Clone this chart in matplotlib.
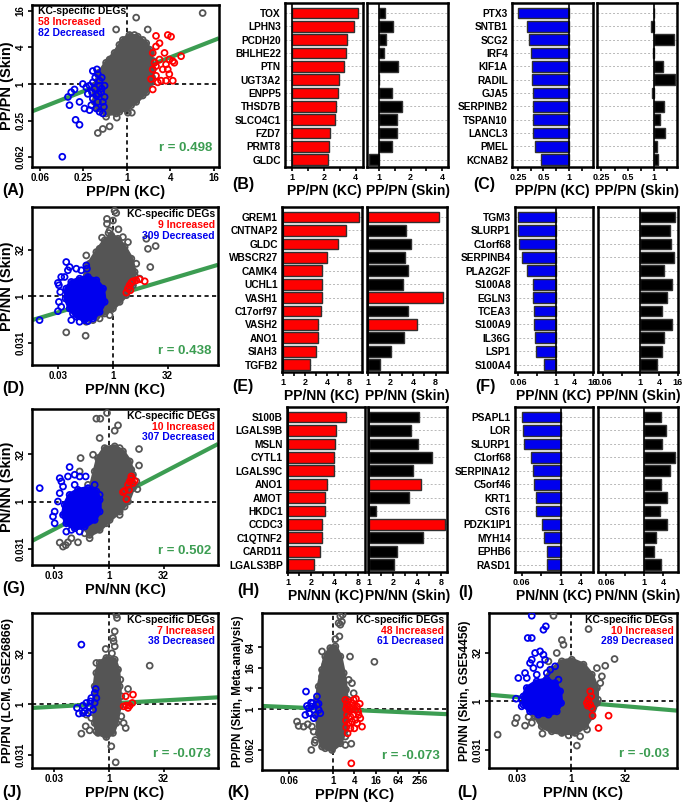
#!/usr/bin/env python
import matplotlib
matplotlib.use('Agg')
import matplotlib.pyplot as plt
import numpy as np

# every value below is a log2 ratio

# ---- (A) PP/PN KC vs PP/PN skin ----
A_core = [(-1.48,-0.98),(-1.48,-0.09),(-1.25,0.63),(-0.95,1.16),(-0.56,1.70),(-0.18,2.41),(0.12,2.68),(0.50,2.59),
          (0.89,2.23),(1.11,1.70),(1.19,0.80),(1.11,0.09),(0.89,-0.45),(0.43,-0.98),(-0.03,-1.34),(-0.49,-1.61),
          (-0.95,-1.61),(-1.33,-1.34)]
A_gray = [(3.48,3.88),(0.43,3.63),(-0.49,2.98),(0.96,2.98),(0.35,2.68),(-1.33,-2.68),(-1.10,-2.46),(-0.79,-2.32),
          (-0.46,-1.84),(0.05,-1.57),(0.23,-1.57),(-0.95,-1.79),(-1.25,0.54),(-0.79,1.34),(-0.34,2.14),(0.73,2.41),
          (1.04,1.88),(1.22,1.25),(1.16,0.36),(0.73,-0.63),(0.20,-1.16),(-0.34,-1.52),(-0.79,-1.52),(-1.44,-0.45)]
A_blue = [(-2.96,-3.98),(-2.35,-1.96),(-2.17,-2.23),(-2.70,-0.71),(-2.63,-1.16),(-2.55,-0.45),(-2.40,-0.30),
          (-2.17,-0.98),(-2.02,0.00),(-1.94,-1.34),(-1.79,-0.54),(-1.71,-1.43),(-1.56,0.71),(-1.37,0.80),(-1.33,0.54),
          (-1.25,-1.52),(-1.10,-1.61),(-1.56,0.09),(-1.48,-0.27),(-1.40,-0.63),(-1.25,-0.09),(-1.18,-0.45),
          (-1.33,-0.98),(-1.10,-0.98),(-1.02,-0.09),(-1.56,-0.80),(-1.71,-0.09),(-1.86,-0.18),(-1.25,0.18),
          (-1.02,-0.71),(-1.63,-1.16),(-1.40,-1.34),(-1.15,0.35),(-1.45,0.35),(-1.05,-1.25),(-1.30,-0.55),
          (-1.60,-0.45),(-1.15,-0.25)]
A_red = [(1.34,2.63),(1.88,2.68),(2.03,2.59),(2.49,1.52),(2.18,1.16),(1.95,1.34),(1.73,1.70),(1.50,1.34),
         (1.27,1.16),(1.19,0.80),(1.34,0.45),(1.57,0.18),(1.80,0.18),(2.11,0.18),(1.19,-0.30),(1.42,0.09),
         (1.65,0.80),(1.88,0.80),(2.11,1.25),(1.34,2.05),(1.19,1.70),(1.50,2.23),(1.80,1.07),(1.11,0.27),
         (1.95,0.54),(1.34,0.98)]
A_fit = (0.466, 0.53)
A_r = '0.498'
A_counts = (58, 82)

# ---- (D) PP/NN KC vs PP/NN skin ----
D_core = [(-2.59,-2.04),(-3.05,-0.61),(-2.74,1.54),(-2.29,3.32),(-1.52,4.75),(-0.76,6.0),(-0.15,6.54),(0.46,6.18),
          (1.07,5.29),(1.68,4.04),(1.98,2.61),(1.83,1.18),(1.22,0.11),(0.61,-0.61),(0.0,-1.32),(-0.76,-1.86),
          (-1.52,-2.21)]
D_gray = [(0.15,9.2),(0.30,8.96),(-0.55,8.32),(-0.55,7.79),(0.0,8.14),(0.91,6.36),(3.2,5.1),(3.9,5.4),(3.05,6.18),
          (3.41,3.14),(1.98,2.25),(-4.27,-3.89),(-2.5,-4.25),(-2.13,3.5),(-2.44,4.39),(-1.22,5.11),(-0.30,7.07),
          (1.37,5.82),(2.13,3.5),(2.44,1.89),(-0.3,-2.04),(-1.22,-2.39),(-1.83,-2.57),(-2.44,-2.75),(-0.4,6.8),
          (0.5,7.2),(-1.0,6.3)]
D_blue_core = [(-4.27,0.82),(-3.81,1.54),(-3.05,1.89),(-2.29,2.07),(-1.52,1.71),(-0.91,0.82),(-0.76,-0.61),
               (-1.22,-1.68),(-1.83,-2.39),(-2.59,-2.57),(-3.35,-2.21),(-3.96,-1.32),(-4.33,-0.25)]
D_blue = [(-6.71,-2.57),(-5.03,1.43),(-4.94,1.18),(-4.82,0.46),(-4.94,-0.61),(-5.03,-1.61),(-4.73,-1.14),
          (-4.27,3.68),(-3.96,3.14),(-4.12,2.79),(-3.35,2.96),(-2.9,2.79),(-2.44,3.32),(-2.38,2.96),(-4.42,2.07),
          (-3.81,-2.57),(-3.05,-2.75),(-2.29,-2.68),(-3.66,-1.86),(-4.73,2.07)]
D_red = [(1.22,0.39),(1.37,0.82),(1.52,1.18),(1.68,1.46),(1.83,1.61),(2.13,1.71),(2.44,1.82),(2.90,1.61),(1.59,0.64)]
D_fit = (0.35, 0.02)
D_r = '0.438'
D_counts = (9, 309)

# ---- (G) PN/NN KC vs PN/NN skin ----
G_core = [(-1.73,-3.52),(-2.33,-2.46),(-2.18,-0.70),(-1.73,1.06),(-1.27,3.17),(-0.97,4.58),(-0.36,5.63),(0.55,5.81),
          (1.30,5.28),(1.91,4.23),(2.21,2.82),(2.21,1.41),(1.76,0.0),(1.0,-1.06),(0.09,-1.94),(-0.82,-2.99)]
G_gray = [(-1.12,8.73),(-0.76,8.73),(-0.15,9.33),(0.55,7.46),(0.85,8.03),(-0.82,6.69),(2.76,3.80),(2.76,5.53),
          (2.61,1.30),(-3.70,-4.30),(-2.79,-4.30),(-4.15,-4.75),(-4.45,-4.33),(-2.64,3.17),(-2.55,4.58),(-1.73,-3.87),
          (1.0,-1.41),(-1.88,1.76),(-1.42,4.93),(1.0,5.63),(2.06,3.35),(2.52,2.11),(1.45,-0.53),(-0.21,-2.29),
          (-2.18,-3.35),(-3.39,-3.87),(-3.9,-4.6)]
G_blue_core = [(-4.0,-0.35),(-3.55,0.70),(-2.79,1.23),(-1.88,1.41),(-1.12,1.06),(-0.82,0.18),(-0.82,-1.06),
               (-1.27,-1.94),(-2.18,-2.64),(-3.09,-2.82),(-3.85,-2.29),(-4.15,-1.41)]
G_blue = [(-6.27,1.41),(-4.61,0.0),(-5.06,-1.58),(-4.91,-2.29),(-4.91,-1.06),(-4.45,2.46),(-4.30,2.11),(-3.55,3.63),
          (-3.70,2.64),(-3.09,2.82),(-2.64,2.64),(-2.09,2.64),(-1.27,1.76),(-4.45,0.88),(-4.15,1.58),(-3.09,1.76),
          (-0.82,0.70),(-3.39,-2.99),(-3.85,-3.17),(-2.64,-3.17)]
G_red = [(1.45,1.13),(1.30,0.99),(1.76,1.76),(1.91,2.11),(2.06,2.39),(2.21,1.94),(2.36,2.18),(2.06,2.64),
         (1.61,0.25),(1.85,1.23)]
G_fit = (0.604, 0.06)
G_r = '0.502'
G_counts = (10, 307)

# ---- (J) PP/PN KC vs PP/PN LCM ----
J_core = [(-0.97,-2.86),(-1.27,-1.88),(-1.33,-0.23),(-1.27,1.74),(-1.12,3.06),(-0.82,4.05),(-0.21,4.54),(0.55,4.38),
          (0.85,3.39),(1.0,1.74),(1.0,-0.23),(0.70,-1.88),(0.39,-2.86),(-0.21,-3.26)]
J_gray = [(0.70,8.82),(0.76,8.49),(0.55,7.17),(0.39,6.51),(0.45,6.18),(0.55,5.69),(-0.27,5.43),(3.73,3.78),
          (1.76,1.48),(-2.48,-2.93),(-2.09,-2.20),(-1.73,-2.6),(-1.12,-2.7),(1.36,-1.88),(1.55,-2.37),(0.24,-4.18),
          (0.64,-5.76),(-2.03,-1.05),(-1.12,4.05),(-0.97,2.40),(1.06,2.40),(1.15,0.76),(1.15,-1.22),(-0.82,-2.70),
          (-1.58,-1.38),(0.3,5.0)]
J_blue = [(-2.48,5.86),(-1.18,1.48),(-1.27,1.09),(-1.58,0.59),(-1.67,0.26),(-2.03,0.10),(-2.33,-0.16),(-2.88,-0.39),
          (-2.70,-0.95),(-2.18,-0.72),(-1.73,-0.23),(-1.42,-0.56),(-1.88,-0.89),(-1.27,0.10),(-2.33,-0.89),(-1.12,0.59)]
J_red = [(1.61,-0.16),(1.76,-0.39),(2.15,0.10),(2.21,0.92),(1.55,0.76),(1.36,-0.23),(1.91,-0.16)]
J_fit = (0.062, 0.04)
J_r = '-0.073'
J_counts = (7, 38)

# ---- (K) PP/PN KC vs skin meta-analysis ----
K_core = [(-0.98,-3.68),(-1.29,-2.38),(-1.45,-0.75),(-1.45,0.88),(-1.29,2.18),(-0.98,3.81),(-0.68,5.11),(-0.22,5.93),
          (0.25,6.09),(0.71,5.11),(1.02,3.49),(1.23,1.86),(1.32,-0.10),(1.17,-2.05),(0.71,-3.36),(-0.06,-4.01)]
K_gray = [(0.71,9.02),(0.92,9.19),(0.55,8.37),(0.71,8.21),(0.85,8.5),(0.62,7.07),(0.25,6.8),(-0.98,5.60),(1.6,5.1),
          (3.85,4.59),(1.94,1.53),(1.78,2.51),(-3.29,-1.24),(-3.14,-1.66),(-2.68,-1.73),(-2.3,-1.5),(-1.97,-4.01),
          (-1.66,-3.29),(-1.75,-2.21),(1.17,-3.52),(0.71,-2.54),(1.72,-3.4),(-0.98,3.16),(-0.68,4.30),(1.42,0.88),
          (1.48,2.83),(1.17,-2.70),(-0.68,-3.84),(-1.60,-3.03),(-1.91,-1.73)]
K_blue = [(-2.46,1.69),(-2.52,-0.59),(-2.37,0.29),(-2.22,0.07),(-1.97,0.23),(-1.75,-0.10),(-1.60,-0.59),(-1.45,0.39),
          (-1.29,-0.10),(-1.85,0.55),(-1.45,1.21),(-2.15,-0.42),(-1.14,-0.42),(-1.75,-0.91),(-2.0,0.6),(-1.3,0.5)]
K_red = [(2.15,0.98),(1.17,0.88),(1.32,0.39),(1.48,-0.10),(1.32,-0.59),(1.23,-1.14),(1.38,-2.38),(1.63,-1.89),
         (1.78,-1.24),(1.94,-0.59),(2.09,-0.10),(2.25,0.23),(1.78,0.55),(1.94,0.88),(2.40,-0.59),(2.55,-0.91),
         (2.71,-1.73),(2.25,-1.40),(1.63,-0.75),(1.48,-1.40),(1.72,-5.31),(2.09,-1.07),(2.34,-0.26),(1.54,0.16),
         (1.25,0.0),(1.25,-1.8),(2.0,-1.9),(2.5,0.5),(1.4,0.7),(1.9,0.2)]
K_fit = (-0.047, -0.02)
K_r = '-0.073'
K_counts = (48, 61)

# ---- (L) PP/NN KC vs PP/NN skin GSE54456 ----
L_core = [(-2.69,-2.57),(-3.30,-1.54),(-3.15,0.17),(-2.69,1.88),(-1.76,3.25),(-0.83,4.11),(0.09,4.28),(1.17,3.77),
          (1.94,2.74),(2.41,1.37),(2.41,-0.17),(1.94,-1.54),(1.33,-2.57),(0.40,-3.25),(-0.83,-3.25),(-1.76,-3.08)]
L_gray = [(-1.60,8.80),(1.64,7.43),(-0.68,5.82),(-0.83,6.3),(4.04,4.35),(3.18,3.66),(2.41,3.42),(-6.76,-3.42),
          (-5.0,-1.71),(-5.15,-2.23),(-4.23,-2.50),(-2.62,-3.32),(0.56,-4.55),(0.86,-3.60),(2.5,0.17),(2.72,1.88),
          (2.87,2.57),(-1.30,4.97),(-2.07,4.11),(-3.6,-2.2),(-3.9,-1.6),(1.5,-2.9),(-0.2,-3.5)]
L_blue_core = [(-4.38,0.51),(-4.07,1.37),(-3.15,2.05),(-2.22,2.23),(-1.45,1.88),(-0.99,1.03),(-0.90,-0.17),
               (-1.30,-1.03),(-2.07,-1.37),(-2.99,-1.37),(-3.77,-1.03),(-4.38,-0.34)]
L_blue = [(-3.61,8.80),(-3.98,6.51),(-3.61,6.51),(-2.53,7.36),(-2.31,7.71),(-3.30,4.97),(-2.84,5.14),(-2.53,4.79),
          (-2.38,4.28),(-3.61,4.28),(-3.77,3.94),(-3.46,3.42),(-2.84,3.77),(-1.91,3.25),(-1.45,3.60),(-4.85,2.40),
          (-4.23,2.91),(-4.07,2.40),(-5.06,0.27),(-4.54,0.17),(-2.22,2.91),(-3.15,2.74),(-1.14,2.23),(-4.54,-0.51)]
L_red = [(1.79,1.03),(1.88,0.51),(1.64,0.17),(1.48,-0.17),(1.79,-0.34),(1.94,-0.68),(2.01,-1.47),(3.49,-1.47),
         (2.56,-2.74),(1.57,-0.45)]
L_fit = (-0.094, -0.03)
L_r = '-0.03'
L_counts = (10, 289)

# ---- bar panels ----
B_genes = ['TOX','LPHN3','PCDH20','BHLHE22','PTN','UGT3A2','ENPP5','THSD7B','SLCO4C1','FZD7','PRMT8','GLDC']
B_kc = [2.08,1.95,1.72,1.69,1.64,1.48,1.45,1.38,1.36,1.19,1.17,1.14]
B_skin = [0.18,0.44,0.21,0.15,0.60,0.01,0.42,0.73,0.58,0.57,0.41,-0.32]

C_genes = ['PTX3','SNTB1','SCG2','IRF4','KIF1A','RADIL','GJA5','SERPINB2','TSPAN10','LANCL3','PMEL','KCNAB2']
C_kc = [-2.01,-1.64,-1.57,-1.47,-1.44,-1.43,-1.40,-1.40,-1.40,-1.39,-1.34,-1.10]
C_skin = [0.0,-0.12,0.74,-0.05,0.32,0.81,-0.09,0.36,0.21,0.42,0.12,0.15]

E_genes = ['GREM1','CNTNAP2','GLDC','WBSCR27','CAMK4','UCHL1','VASH1','C17orf97','VASH2','ANO1','SIAH3','TGFB2']
E_kc = [3.43,2.88,2.49,2.01,1.79,1.79,1.76,1.75,1.61,1.60,1.51,1.24]
E_skin = [3.13,1.69,1.90,1.64,1.79,1.57,3.31,1.79,2.19,1.61,1.04,0.55]
E_skin_up = ['GREM1','VASH1','VASH2']

F_genes = ['TGM3','SLURP1','C1orf68','SERPINB4','PLA2G2F','S100A8','EGLN3','TCEA3','S100A9','IL36G','LSP1','S100A4']
F_kc = [-4.06,-3.99,-3.89,-3.57,-3.07,-2.47,-2.37,-2.33,-2.33,-2.16,-2.12,-1.27]
F_skin = [3.75,3.14,3.32,3.61,2.54,3.39,2.82,2.32,3.43,2.54,2.32,1.82]

H_genes = ['S100B','LGALS9B','MSLN','CYTL1','LGALS9C','ANO1','AMOT','HKDC1','CCDC3','C1QTNF2','CARD11','LGALS3BP']
H_kc = [2.50,2.06,2.03,2.00,2.00,1.68,1.61,1.61,1.47,1.47,1.37,1.14]
H_skin = [2.09,1.76,2.06,2.64,1.83,2.16,1.66,0.26,3.16,2.26,1.16,1.03]
H_skin_up = ['ANO1','CCDC3']

I_genes = ['PSAPL1','LOR','SLURP1','C1orf68','SERPINA12','C5orf46','KRT1','CST6','PDZK1IP1','MYH14','EPHB6','RASD1']
I_kc = [-4.0,-3.90,-3.73,-3.05,-2.88,-2.75,-2.54,-2.54,-1.97,-1.69,-1.46,-1.42]
I_skin = [1.79,2.29,1.93,3.29,2.75,1.75,2.36,1.68,2.43,1.21,1.07,1.75]


plt.rcParams['font.family'] = ['Liberation Sans', 'DejaVu Sans']
plt.rcParams['font.weight'] = 'bold'
plt.rcParams['axes.labelweight'] = 'bold'

GRAY = '#555555'
RED = '#ff0000'
BLUE = '#0000ee'
GREEN = '#3c9d52'
W, H = 685., 806.

fig = plt.figure(figsize=(W/100, H/100), dpi=100)


def add_ax(x0, y0, x1, y1):
    return fig.add_axes([x0/W, 1 - y1/H, (x1-x0)/W, (y1-y0)/H])


def style(ax):
    for s in ax.spines.values():
        s.set_linewidth(1.8)
    ax.tick_params(direction='out', length=3, width=1.2, pad=1.5)


def scatter_panel(box, core, gray, blue, red, fit, r, counts, xlim, ylim, xt, xtl, yt, ytl,
                  xlab, ylab, ylab_size=10.5, left_legend=False, blue_core=None, r_y=0.09):
    ax = add_ax(*box)
    style(ax)
    ax.axhline(0, color='k', ls=(0, (2.5, 2)), lw=1.2, zorder=1)
    ax.axvline(0, color='k', ls=(0, (2.5, 2)), lw=1.2, zorder=1)
    xs = np.array(xlim)
    ax.plot(xs, fit[0]*xs + fit[1], color=GREEN, lw=3, zorder=2, solid_capstyle='butt')

    core = np.array(core)
    ax.fill(core[:, 0], core[:, 1], color=GRAY, lw=3, joinstyle='round', zorder=3)
    for pts, col, z in [(core, GRAY, 3), (np.array(gray), GRAY, 3)]:
        ax.scatter(pts[:, 0], pts[:, 1], s=18, facecolors='none', edgecolors=col, linewidths=1.3, zorder=z)
    if blue_core is not None:
        bc = np.array(blue_core)
        ax.fill(bc[:, 0], bc[:, 1], color=BLUE, lw=3, joinstyle='round', zorder=4)
        ax.scatter(bc[:, 0], bc[:, 1], s=18, facecolors='none', edgecolors=BLUE, linewidths=1.3, zorder=4)
    b = np.array(blue)
    ax.scatter(b[:, 0], b[:, 1], s=18, facecolors='none', edgecolors=BLUE, linewidths=1.3, zorder=4)
    rd = np.array(red)
    ax.scatter(rd[:, 0], rd[:, 1], s=18, facecolors='none', edgecolors=RED, linewidths=1.3, zorder=5)

    ax.set_xlim(xlim)
    ax.set_ylim(ylim)
    ax.set_xticks(xt)
    ax.set_xticklabels(xtl, fontsize=7)
    ax.set_yticks(yt)
    ax.set_yticklabels(ytl, fontsize=7, rotation=90, va='center')
    ax.set_xlabel(xlab, fontsize=10.5, labelpad=1)
    ax.set_ylabel(ylab, fontsize=ylab_size, labelpad=1)

    lines = [('KC-specific DEGs', 'black'), ('%d Increased' % counts[0], RED), ('%d Decreased' % counts[1], BLUE)]
    for i, (t, c) in enumerate(lines):
        if left_legend:
            ax.text(0.03, 0.965 - i*0.068, t, color=c, fontsize=7.5, ha='left', va='center',
                    transform=ax.transAxes, zorder=6)
        else:
            ax.text(0.982, 0.955 - i*0.068, t, color=c, fontsize=7.5, ha='right', va='center',
                    transform=ax.transAxes, zorder=6)
    ax.text(0.962, r_y, 'r = ' + r, color=GREEN, fontsize=9.5, ha='right', va='center',
            transform=ax.transAxes, zorder=6)
    return ax


def bar_panel(box, genes, vals, color, xlim, ticks, tlabels, minor, xlab, show_genes, up=()):
    ax = add_ax(*box)
    style(ax)
    pos = np.arange(len(genes))
    for p in pos:
        ax.axhline(p, color='#b8b8b8', ls=(0, (2, 2)), lw=0.7, zorder=0)
    cols = [RED if g in up else color for g in genes]
    ax.barh(pos, vals, height=0.8, color=cols, edgecolor='#303030', linewidth=1, zorder=2)
    ax.axvline(0, color='k', lw=1.2, zorder=3)
    ax.set_ylim(len(genes) - 0.45, -0.75)
    ax.set_xlim(xlim)
    ax.set_xticks(ticks)
    ax.set_xticklabels(tlabels, fontsize=6.5)
    ax.set_xticks(minor, minor=True)
    ax.tick_params(which='minor', direction='out', length=3, width=1.2)
    if show_genes:
        ax.set_yticks(pos)
        ax.set_yticklabels(genes, fontsize=7.3)
        ax.tick_params(axis='y', length=0, pad=3)
    else:
        ax.set_yticks([])
    ax.set_xlabel(xlab, fontsize=10, labelpad=1)
    return ax


# scatter panels
scatter_panel((32, 5, 219, 167), A_core, A_gray, A_blue, A_red, A_fit, A_r, A_counts,
              (-4.35, 4.23), (-4.54, 4.32), [-4, -2, 0, 2, 4], ['0.06', '0.25', '1', '4', '16'],
              [-4, -2, 0, 2, 4], ['0.062', '0.25', '1', '4', '16'], 'PP/PN (KC)', 'PP/PN (Skin)',
              left_legend=True, r_y=0.115)
scatter_panel((32, 207, 218, 365), D_core, D_gray, D_blue, D_red, D_fit, D_r, D_counts,
              (-7.4, 9.6), (-7.4, 9.6), [-5, 0, 5], ['0.03', '1', '32'],
              [-5, 0, 5], ['0.031', '1', '32'], 'PP/NN (KC)', 'PP/NN (Skin)', blue_core=D_blue_core)
scatter_panel((32, 409, 218, 565), G_core, G_gray, G_blue, G_red, G_fit, G_r, G_counts,
              (-6.97, 9.94), (-6.69, 9.75), [-5, 0, 5], ['0.03', '1', '32'],
              [-5, 0, 5], ['0.031', '1', '32'], 'PN/NN (KC)', 'PN/NN (Skin)', blue_core=G_blue_core)
scatter_panel((32, 613, 218, 768), J_core, J_gray, J_blue, J_red, J_fit, J_r, J_counts,
              (-6.97, 9.94), (-6.32, 8.98), [-5, 0, 5], ['0.03', '1', '32'],
              [-5, 0, 5], ['0.031', '1', '32'], 'PP/PN (KC)', 'PP/PN (LCM, GSE26866)', ylab_size=9)
scatter_panel((262, 613, 447, 770), K_core, K_gray, K_blue, K_red, K_fit, K_r, K_counts,
              (-6.52, 10.55), (-5.96, 9.35), [-4, 0, 2, 4, 6, 8], ['0.06', '1', '4', '16', '64', '256'],
              [-4, 0, 2, 4, 6], ['0.062', '1', '4', '16', '64'], 'PP/PN (KC)',
              'PP/PN (Skin, Meta-analysis)', ylab_size=8.3)
scatter_panel((489, 613, 677, 768), L_core, L_gray, L_blue, L_red, L_fit, L_r, L_counts,
              (-7.56, 9.81), (-6.85, 9.08), [-5, 0, 5], ['0.03', '1', '32'],
              [-5, 0, 5], ['0.031', '1', '32'], 'PP/NN (KC)', 'PP/NN (Skin, GSE54456)',
              ylab_size=8.7, blue_core=L_blue_core)

# bar panels
lin2 = ([0, 1, 2], ['1', '2', '4'], [0.5, 1.5])
lin3 = ([0, 1, 2, 3], ['1', '2', '4', '8'], [0.5, 1.5, 2.5])
neg2 = ([-2, -1, 0], ['0.25', '0.5', '1'], [-1.5, -0.5, 0.5])
wide = ([-4, -2, 0, 2, 4], ['0.06', '', '1', '4', '16'], [])
wide_i = ([-4, -2, 0, 2], ['0.06', '', '1', '4'], [])

bar_panel((285, 3, 363, 167), B_genes, B_kc, RED, (-0.23, 2.23), *lin2, 'PP/PN (KC)', True)
bar_panel((367, 3, 448, 167), B_genes, B_skin, 'black', (-0.38, 2.18), *lin2, 'PP/PN (Skin)', False)
bar_panel((512, 3, 593, 167), C_genes, C_kc, BLUE, (-2.23, 0.94), *neg2, 'PP/PN (KC)', True)
bar_panel((597, 3, 677, 167), C_genes, C_skin, 'black', (-2.17, 0.87), *neg2, 'PP/PN (Skin)', False)

bar_panel((282, 207, 362, 372), E_genes, E_kc, RED, (-0.03, 3.58), *lin3, 'PP/NN (KC)', True)
bar_panel((367, 207, 447, 372), E_genes, E_skin, 'black', (-0.03, 3.5), *lin3, 'PP/NN (Skin)', False, up=E_skin_up)
bar_panel((515, 207, 593, 372), F_genes, F_kc, BLUE, (-4.35, 4.02), *wide, 'PP/NN (KC)', True)
bar_panel((598, 207, 678, 372), F_genes, F_skin, 'black', (-4.54, 4.02), *wide, 'PP/NN (Skin)', False)

bar_panel((287, 407, 365, 572), H_genes, H_kc, RED, (-0.03, 3.31), *lin3, 'PN/NN (KC)', True)
bar_panel((368, 407, 447, 572), H_genes, H_skin, 'black', (-0.06, 3.26), *lin3, 'PN/NN (Skin)', False, up=H_skin_up)
bar_panel((515, 407, 593, 572), I_genes, I_kc, BLUE, (-4.67, 3.25), *wide_i, 'PN/NN (KC)', True)
bar_panel((598, 407, 678, 572), I_genes, I_skin, 'black', (-4.86, 3.57), *wide_i, 'PN/NN (Skin)', False)

# panel letters
letters = [('(A)', 2, 190), ('(B)', 232, 185), ('(C)', 473, 184),
           ('(D)', 2, 388), ('(E)', 232, 387), ('(F)', 475, 387),
           ('(G)', 2, 588), ('(H)', 237, 590), ('(I)', 458, 592),
           ('(J)', 2, 792), ('(K)', 227, 792), ('(L)', 457, 792)]
for t, x, y in letters:
    fig.text(x/W, 1 - y/H, t, fontsize=11.5, ha='left', va='center')

plt.savefig('out.png', dpi=100)
